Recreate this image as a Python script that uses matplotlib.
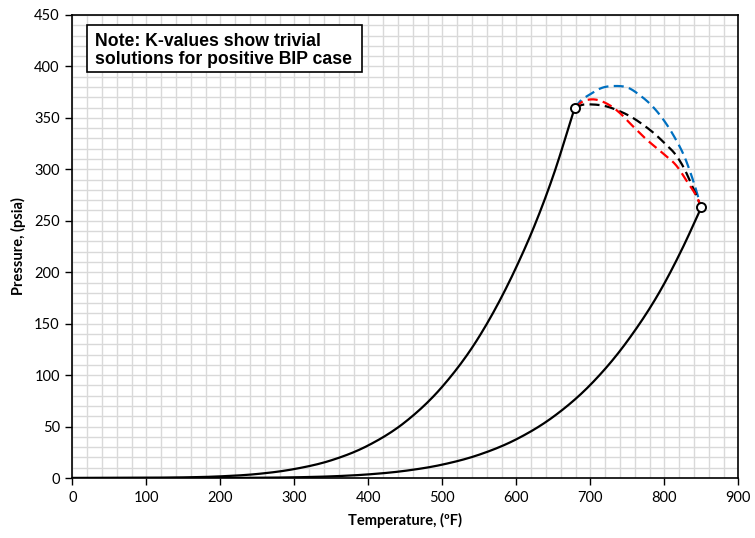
import matplotlib
matplotlib.use("Agg")
import numpy as np
import matplotlib.pyplot as plt
from matplotlib.ticker import MultipleLocator
from matplotlib.patches import Rectangle

# Vapor pressure curve, component 1 (ends at its critical point)
t_comp1 = [0, 100, 150, 200, 250, 300, 350, 400, 450, 500, 550, 600, 625, 650, 679]
p_comp1 = [0, 0.16, 0.55, 1.6, 3.9, 8.7, 17.2, 31.7, 54.5, 88.8, 137.6, 205, 246, 294, 360]

# Vapor pressure curve, component 2
t_comp2 = [0, 200, 250, 300, 350, 400, 450, 500, 550, 600, 650, 700, 750, 800, 825, 850]
p_comp2 = [0, 0.08, 0.25, 0.67, 1.6, 3.5, 7.0, 13.0, 22.7, 37.6, 59.5, 90.5, 133, 189, 224, 263]

# Critical points
t_crit = [679, 850]
p_crit = [360, 263]

# Critical loci (dashed)
t_blue = [679, 686, 700, 715, 733, 752, 767, 783, 801, 814, 828, 839, 850]
p_blue = [360, 366, 373, 379, 381, 379, 372, 362, 346, 331, 311, 289, 263]

t_red = [679, 690, 702, 722, 738, 756, 776, 799, 817, 830, 846, 850]
p_red = [360, 366, 368, 364, 356, 343, 329, 315, 303, 289, 270, 263]

t_black = [679, 688, 704, 720, 738, 754, 772, 787, 801, 815, 826, 837, 850]
p_black = [360, 362.5, 363, 361.5, 357, 351.5, 343, 334.5, 325, 314.5, 302, 285, 263]

note_lines = ["Note: K-values show trivial", "solutions for positive BIP case"]


def smooth(xs, ys, n=24):
    """Cubic Hermite smoothing along x, for drawing a smoothed line."""
    x = np.asarray(xs, float)
    y = np.asarray(ys, float)
    h = np.diff(x)
    d = np.diff(y) / h
    m = np.empty_like(y)
    m[0] = d[0]
    m[-1] = d[-1]
    m[1:-1] = (d[:-1] * h[1:] + d[1:] * h[:-1]) / (h[:-1] + h[1:])
    ox, oy = [], []
    t = np.linspace(0, 1, n, endpoint=False)
    for i in range(len(x) - 1):
        h00 = 2 * t**3 - 3 * t**2 + 1
        h10 = t**3 - 2 * t**2 + t
        h01 = -2 * t**3 + 3 * t**2
        h11 = t**3 - t**2
        ox.extend(x[i] + t * h[i])
        oy.extend(h00 * y[i] + h10 * h[i] * m[i] + h01 * y[i + 1] + h11 * h[i] * m[i + 1])
    ox.append(x[-1])
    oy.append(y[-1])
    return np.array(ox), np.clip(np.array(oy), 0, None)


fig = plt.figure(figsize=(7.55, 5.38), dpi=100)
ax = fig.add_axes([72.3 / 755, 60 / 538, 666 / 755, 463 / 538])

ax.set_xlim(0, 900)
ax.set_ylim(0, 450)
ax.xaxis.set_major_locator(MultipleLocator(100))
ax.yaxis.set_major_locator(MultipleLocator(50))
ax.xaxis.set_minor_locator(MultipleLocator(20))
ax.yaxis.set_minor_locator(MultipleLocator(10))
ax.grid(which="both", color="#d9d9d9", linewidth=1.0)
ax.set_axisbelow(True)
ax.tick_params(which="minor", length=0)
ax.tick_params(which="major", direction="out", length=5, width=1, labelsize=10.5, pad=4)
for lab in ax.get_xticklabels() + ax.get_yticklabels():
    lab.set_family("Lato")
for s in ax.spines.values():
    s.set_color("black")
    s.set_linewidth(1.2)

ax.plot(*smooth(t_comp1, p_comp1), color="black", lw=1.6, zorder=3)
ax.plot(*smooth(t_comp2, p_comp2), color="black", lw=1.6, zorder=3)

dash = (4.5, 2.4)
ax.plot(*smooth(t_blue, p_blue), color="#0070C0", lw=1.6, dashes=dash, zorder=3)
ax.plot(*smooth(t_black, p_black), color="black", lw=1.6, dashes=dash, zorder=4)
ax.plot(*smooth(t_red, p_red), color="#FF0000", lw=1.6, dashes=dash, zorder=4)

ax.plot(t_crit, p_crit, linestyle="none", marker="o", markersize=6.5,
        markerfacecolor="white", markeredgecolor="black", markeredgewidth=1.4, zorder=5)

ax.set_xlabel("Temperature, (ºF)", family="Lato", fontweight="bold", fontsize=10.5, labelpad=6)
ax.set_ylabel("Pressure, (psia)", family="Lato", fontweight="bold", fontsize=10.5, labelpad=6)

ax.add_patch(Rectangle((20, 394.8), 371.5, 45.4, facecolor="white", edgecolor="black",
                       linewidth=1.2, zorder=6))
ax.text(30.7, 419.6, note_lines[0], ha="left", va="baseline", family="Liberation Sans",
        fontweight="bold", fontsize=12.7, zorder=7)
ax.text(30.7, 402.0, note_lines[1], ha="left", va="baseline", family="Liberation Sans",
        fontweight="bold", fontsize=12.7, zorder=7)

fig.savefig("out.png", dpi=100)
